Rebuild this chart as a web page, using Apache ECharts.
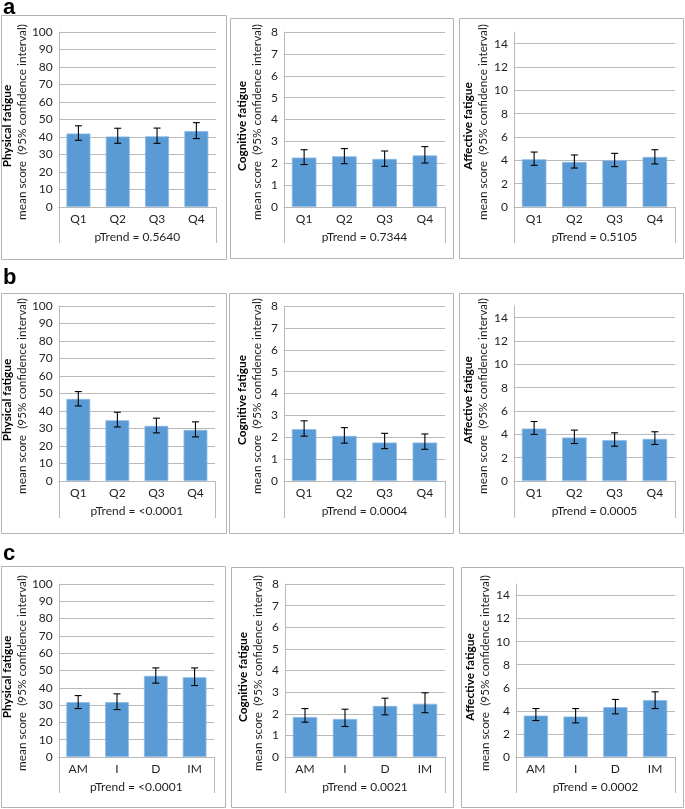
<!DOCTYPE html>
<html>
<head>
<meta charset="utf-8">
<script src="https://cdn.jsdelivr.net/npm/echarts@6/dist/echarts.min.js"></script>
<style>
html,body{margin:0;padding:0;background:#fff;}
#chart{width:685px;height:809px;}
</style>
</head>
<body>
<div id="chart"></div>
<script>
// ---------- data ----------
const catsQ = ['Q1', 'Q2', 'Q3', 'Q4'];
const catsC = ['AM', 'I', 'D', 'IM'];

// row a
const aPhysMean = [42.0, 40.3, 40.4, 43.4];
const aPhysLow  = [38.1, 36.4, 36.4, 39.1];
const aPhysHigh = [46.4, 45.0, 45.1, 48.2];
const aCogMean  = [2.26, 2.32, 2.20, 2.36];
const aCogLow   = [1.94, 1.98, 1.86, 2.01];
const aCogHigh  = [2.62, 2.67, 2.56, 2.76];
const aAffMean  = [4.09, 3.86, 4.00, 4.29];
const aAffLow   = [3.57, 3.34, 3.46, 3.69];
const aAffHigh  = [4.71, 4.46, 4.60, 4.91];
// row b
const bPhysMean = [46.9, 34.7, 31.5, 29.2];
const bPhysLow  = [42.9, 30.9, 27.5, 25.2];
const bPhysHigh = [51.1, 39.3, 35.9, 33.8];
const bCogMean  = [2.37, 2.06, 1.76, 1.76];
const bCogLow   = [2.05, 1.73, 1.48, 1.45];
const bCogHigh  = [2.75, 2.44, 2.18, 2.15];
const bAffMean  = [4.50, 3.73, 3.50, 3.61];
const bAffLow   = [3.99, 3.21, 2.98, 3.13];
const bAffHigh  = [5.10, 4.36, 4.13, 4.22];
// row c
const cPhysMean = [31.7, 31.7, 46.9, 46.1];
const cPhysLow  = [28.0, 27.4, 42.7, 41.3];
const cPhysHigh = [35.5, 36.5, 51.5, 51.5];
const cCogMean  = [1.85, 1.76, 2.36, 2.46];
const cCogLow   = [1.61, 1.41, 1.95, 2.05];
const cCogHigh  = [2.24, 2.21, 2.72, 2.97];
const cAffMean  = [3.59, 3.51, 4.32, 4.93];
const cAffLow   = [3.16, 2.96, 3.74, 4.20];
const cAffHigh  = [4.20, 4.20, 4.99, 5.65];

const pTrendA = ['pTrend = 0.5640', 'pTrend = 0.7344', 'pTrend = 0.5105'];
const pTrendB = ['pTrend = <0.0001', 'pTrend = 0.0004', 'pTrend = 0.0005'];
const pTrendC = ['pTrend = <0.0001', 'pTrend = 0.0021', 'pTrend = 0.0002'];

const measureNames = ['Physical fatigue', 'Cognitive fatigue', 'Affective fatigue'];
const subName = 'mean score  (95% confidence interval)';
const yMax = [100, 8, 15];
const yInterval = [10, 1, 2];
const rowLetters = ['a', 'b', 'c'];

// ---------- layout (positions only) ----------
const gridLayout = [
  [{left:54, top:32, width:162, height:175}, {left:284, top:32, width:161, height:175}, {left:514, top:32, width:161, height:175}],
  [{left:54, top:306, width:161, height:175}, {left:284, top:306, width:161, height:175}, {left:514, top:306, width:161, height:175}],
  [{left:54, top:584, width:160, height:173}, {left:285, top:584, width:160, height:173}, {left:516, top:584, width:159, height:173}]
];
const boxLayout = [
  [[1,15,225,244], [230,18,223,240], [459,18,224,240]],
  [[1,293,225,240], [229,293,224,240], [459,293,224,240]],
  [[1,566,224,241], [231,567,222,240], [461,567,222,240]]
];
const letterLayout = [[3,-3], [3,267], [3,543]];
const nameGapByCol = [25, 19, 23];
const tickLenByRow = [36, 37, 36];

// ---------- build ----------
const panelData = [
  [[aPhysMean,aPhysLow,aPhysHigh],[aCogMean,aCogLow,aCogHigh],[aAffMean,aAffLow,aAffHigh]],
  [[bPhysMean,bPhysLow,bPhysHigh],[bCogMean,bCogLow,bCogHigh],[bAffMean,bAffLow,bAffHigh]],
  [[cPhysMean,cPhysLow,cPhysHigh],[cCogMean,cCogLow,cCogHigh],[cAffMean,cAffLow,cAffHigh]]
];
const rowCats = [catsQ, catsQ, catsC];
const rowP = [pTrendA, pTrendB, pTrendC];

const FONT = 'Lato';
const TXT = '#1f1f1f';
const GRIDC = '#b9b9b9';

const grids = [], xAxes = [], yAxes = [], series = [], graphics = [];
let g = 0;
for (let r = 0; r < 3; r++) {
  graphics.push({
    type: 'text', left: letterLayout[r][0], top: letterLayout[r][1],
    style: {text: rowLetters[r], font: 'bold 22px "Liberation Sans"', fill: '#000'}
  });
  for (let c = 0; c < 3; c++) {
    const b = boxLayout[r][c];
    graphics.push({
      type: 'rect', shape: {x: b[0] + 0.5, y: b[1] + 0.5, width: b[2], height: b[3]},
      style: {fill: 'none', stroke: '#b3b3b3', lineWidth: 1}, z: -1
    });
    grids.push(Object.assign({containLabel: false}, gridLayout[r][c]));
    xAxes.push({
      type: 'category', gridIndex: g, data: rowCats[r],
      axisLine: {show: true, lineStyle: {color: GRIDC, width: 1}},
      axisTick: {show: false},
      axisLabel: {color: TXT, fontFamily: FONT, fontSize: 12, margin: 6}
    });
    xAxes.push({
      type: 'category', gridIndex: g, data: [rowP[r][c]], position: 'bottom',
      axisLine: {show: false},
      axisTick: {show: true, length: tickLenByRow[r], lineStyle: {color: GRIDC, width: 1}},
      axisLabel: {color: TXT, fontFamily: FONT, fontSize: 12, margin: 24}
    });
    yAxes.push({
      type: 'value', gridIndex: g, min: 0, max: yMax[c], interval: yInterval[c],
      axisLine: {show: true, lineStyle: {color: GRIDC, width: 1}},
      axisTick: {show: false},
      axisLabel: {color: TXT, fontFamily: FONT, fontSize: 12, margin: 6,
        formatter: v => (v === 15 ? '' : String(v))},
      splitLine: {show: true, showMaxLine: c !== 2, lineStyle: {color: GRIDC, width: 1}},
      name: '{b|' + measureNames[c] + '}\n{n|' + subName + '}',
      nameLocation: 'middle', nameRotate: 90, nameGap: nameGapByCol[c],
      nameTextStyle: {
        color: TXT, fontFamily: FONT, padding: [0, 5, 0, 0],
        rich: {
          b: {fontWeight: 'bold', fontSize: 11.8, lineHeight: 15, fontFamily: FONT, color: '#000', padding: [0, 8, 0, 0]},
          n: {fontSize: 11.8, lineHeight: 15, fontFamily: FONT, color: TXT}
        }
      }
    });
    const [mean, low, high] = panelData[r][c];
    series.push({
      type: 'bar', xAxisIndex: 2 * g, yAxisIndex: g, data: mean,
      barWidth: '61%',
      itemStyle: {color: '#5b9bd5', borderColor: '#8cb9e6', borderWidth: 0.8},
      silent: true, animation: false
    });
    series.push({
      type: 'custom', xAxisIndex: 2 * g, yAxisIndex: g,
      data: low.map((lo, i) => [i, lo, high[i]]),
      encode: {x: 0, y: [1, 2]},
      renderItem: function (params, api) {
        const x = api.value(0);
        const pHi = api.coord([x, api.value(2)]);
        const pLo = api.coord([x, api.value(1)]);
        const hw = 3.5;
        const st = {stroke: '#000', lineWidth: 1.1};
        return {
          type: 'group',
          children: [
            {type: 'line', shape: {x1: pHi[0], y1: pHi[1], x2: pLo[0], y2: pLo[1]}, style: st},
            {type: 'line', shape: {x1: pHi[0] - hw, y1: pHi[1], x2: pHi[0] + hw, y2: pHi[1]}, style: st},
            {type: 'line', shape: {x1: pLo[0] - hw, y1: pLo[1], x2: pLo[0] + hw, y2: pLo[1]}, style: st}
          ]
        };
      },
      z: 5, silent: true, animation: false
    });
    g++;
  }
}

const chart = echarts.init(document.getElementById('chart'));
chart.setOption({
  animation: false,
  backgroundColor: '#fff',
  grid: grids, xAxis: xAxes, yAxis: yAxes, series: series,
  graphic: graphics
});
</script>
</body>
</html>
